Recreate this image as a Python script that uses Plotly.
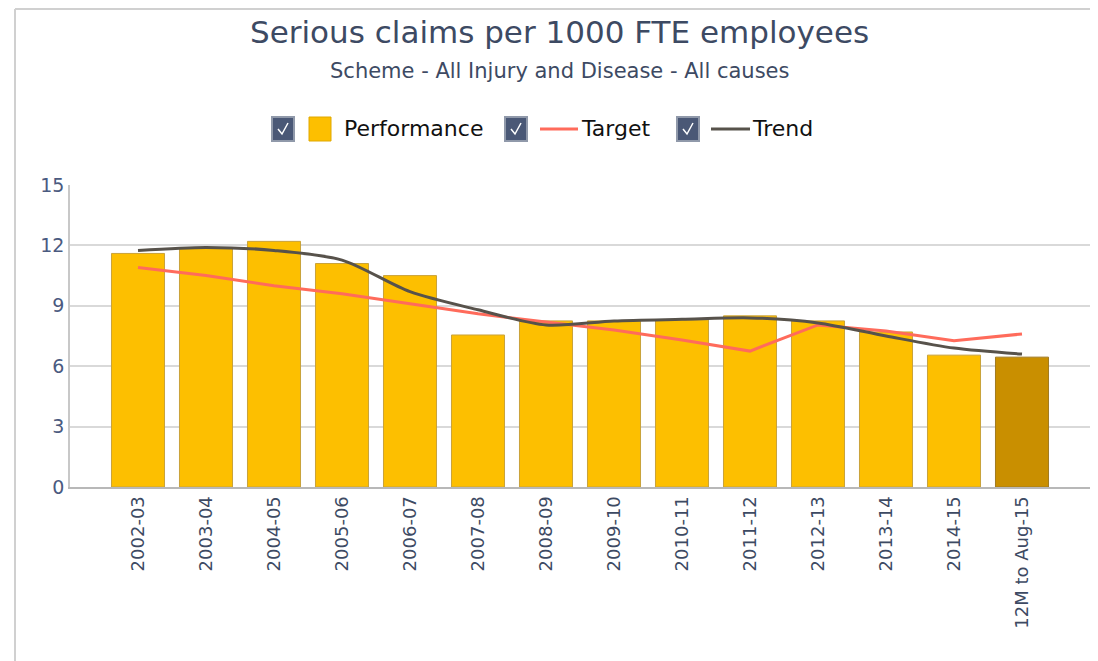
import plotly.graph_objects as go

categories = ["2002-03", "2003-04", "2004-05", "2005-06", "2006-07", "2007-08", "2008-09",
              "2009-10", "2010-11", "2011-12", "2012-13", "2013-14", "2014-15", "12M to Aug-15"]
performance = [11.6, 11.85, 12.2, 11.1, 10.5, 7.55, 8.25, 8.25, 8.3, 8.5, 8.25, 7.7, 6.55, 6.45]
target = [10.9, 10.5, 10.0, 9.6, 9.1, 8.6, 8.2, 7.8, 7.3, 6.75, 8.05, 7.75, 7.27, 7.6]
trend = [11.75, 11.9, 11.75, 11.27, 9.7, 8.8, 8.05, 8.25, 8.33, 8.4, 8.15, 7.5, 6.9, 6.6]
y_ticks = [0, 3, 6, 9, 12, 15]
legend_names = ["Performance", "Target", "Trend"]

OFF = 8  # page body margin
W, H = 1098 - OFF, 661 - OFF
L, R, T, B = 62, 8, 177, 174
PW, PH = W - L - R, H - T - B

def px(x):  # screen x -> paper
    return (x - OFF - L) / PW

def py(y):  # screen y -> paper
    return (H - B - (y - OFF)) / PH

bar_colors = ["#FDBF00"] * (len(categories) - 1) + ["#C98F00"]
bar_lines = ["#C9A23A"] * (len(categories) - 1) + ["#A07A20"]
font = "DejaVu Sans"
text_col = "#3D4A63"

fig = go.Figure()
fig.add_trace(go.Bar(
    x=list(range(len(categories))), y=performance, name=legend_names[0],
    width=0.78,
    marker=dict(color=bar_colors, line=dict(color=bar_lines, width=1)),
))
fig.add_trace(go.Scatter(
    x=list(range(len(categories))), y=target, name=legend_names[1], mode="lines",
    line=dict(color="#FF6B5B", width=3),
))
fig.add_trace(go.Scatter(
    x=list(range(len(categories))), y=trend, name=legend_names[2], mode="lines",
    line=dict(color="#57524B", width=3, shape="spline", smoothing=0.8),
))

shapes = []
# container border
shapes.append(dict(type="line", xref="paper", yref="paper", x0=px(15), x1=px(15), y0=py(9), y1=py(670),
                   line=dict(color="#D0D0D0", width=2)))
shapes.append(dict(type="line", xref="paper", yref="paper", x0=px(15), x1=px(1100), y0=py(9), y1=py(9),
                   line=dict(color="#D0D0D0", width=2)))
# legend checkboxes
for cx in [283, 516, 688]:
    shapes.append(dict(type="rect", xref="paper", yref="paper",
                       x0=px(cx - 11), x1=px(cx + 11), y0=py(141), y1=py(117),
                       fillcolor="#4A5876", line=dict(color="#9099AA", width=2)))
    shapes.append(dict(type="path", xref="paper", yref="paper",
                       path="M {} {} L {} {} L {} {}".format(px(cx - 5), py(129), px(cx - 1), py(134), px(cx + 5), py(123)),
                       line=dict(color="#FFFFFF", width=1.5)))
# legend symbols
shapes.append(dict(type="rect", xref="paper", yref="paper", x0=px(309), x1=px(331), y0=py(141), y1=py(117),
                   fillcolor="#FDBF00", line=dict(color="#E0A800", width=1)))
shapes.append(dict(type="line", xref="paper", yref="paper", x0=px(540), x1=px(578), y0=py(129), y1=py(129),
                   line=dict(color="#FF6B5B", width=3)))
shapes.append(dict(type="line", xref="paper", yref="paper", x0=px(711), x1=px(750), y0=py(129), y1=py(129),
                   line=dict(color="#57524B", width=3)))

annotations = [
    dict(text="Serious claims per 1000 FTE employees", x=px(559), y=py(32), xref="paper", yref="paper",
         showarrow=False, xanchor="center", yanchor="middle",
         font=dict(family=font, size=31, color=text_col)),
    dict(text="Scheme - All Injury and Disease - All causes", x=px(559), y=py(71), xref="paper", yref="paper",
         showarrow=False, xanchor="center", yanchor="middle",
         font=dict(family=font, size=21, color=text_col)),
]
for name, lx in zip(legend_names, [342, 579, 750]):
    annotations.append(dict(text=name, x=px(lx), y=py(129), xref="paper", yref="paper",
                            showarrow=False, xanchor="left", yanchor="middle",
                            font=dict(family=font, size=22, color="#111111")))

fig.update_layout(
    width=W, height=H,
    margin=dict(l=L, r=R, t=T, b=B),
    paper_bgcolor="white", plot_bgcolor="white",
    showlegend=False,
    shapes=shapes,
    annotations=annotations,
    xaxis=dict(
        range=[-1, 14], tickmode="array", tickvals=list(range(len(categories))), ticktext=categories,
        tickangle=-90, showgrid=False, showline=True, linecolor="#B8B8B8", linewidth=2,
        ticks="", tickfont=dict(family=font, size=18, color=text_col),
    ),
    yaxis=dict(
        range=[0, 15], tickmode="array", tickvals=y_ticks, showgrid=True, gridcolor="#D9D9D9", gridwidth=1.5,
        showline=True, linecolor="#C8C8C8", linewidth=1.5, zeroline=False, ticks="",
        tickfont=dict(family=font, size=19, color="#4A5A80"),
    ),
)

fig.write_html("out.html")
